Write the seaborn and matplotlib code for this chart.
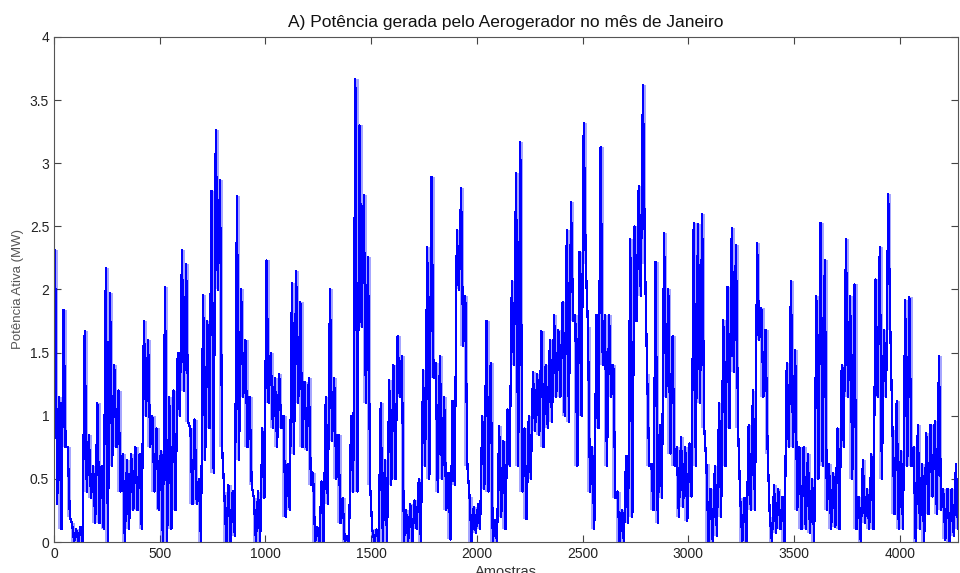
import numpy as np
import pandas as pd
import matplotlib
matplotlib.use("Agg")
import matplotlib.pyplot as plt
import seaborn as sns

# Readings from the reference: for each block of 20 samples, the highest and lowest power (MW)
block_step = 20
peak_mw = [
    2.31, 1.15, 1.84, 0.75, 0.15, 0.10, 0.12, 1.67, 0.85, 0.60,
    1.10, 0.60, 2.17, 1.97, 1.40, 1.20, 0.70, 0.65, 0.70, 0.75,
    0.70, 1.75, 1.60, 1.00, 0.90, 0.72, 2.02, 1.15, 1.20, 1.50,
    2.31, 2.20, 0.90, 0.97, 0.50, 1.96, 1.75, 2.78, 3.26, 2.87,
    0.40, 0.45, 0.40, 2.74, 2.00, 1.60, 1.15, 0.35, 0.40, 0.90,
    2.23, 1.50, 1.30, 1.33, 1.00, 0.62, 2.05, 2.15, 1.90, 1.27,
    1.30, 0.55, 0.12, 0.48, 1.15, 2.00, 1.30, 0.85, 0.35, 0.05,
    1.00, 3.67, 3.30, 2.75, 2.26, 0.10, 0.10, 1.10, 0.65, 1.28,
    1.40, 1.63, 1.47, 0.25, 0.30, 0.33, 0.50, 1.36, 2.34, 2.89,
    1.42, 1.47, 1.15, 0.55, 1.12, 2.47, 2.80, 1.95, 0.36, 0.28,
    0.30, 1.00, 1.75, 1.42, 0.17, 0.92, 0.80, 1.05, 2.07, 2.92,
    3.17, 0.90, 1.00, 1.35, 1.33, 1.67, 1.40, 1.60, 1.80, 1.68,
    1.90, 2.47, 2.69, 1.80, 2.30, 3.32, 1.70, 0.75, 1.80, 3.13,
    1.80, 1.80, 1.40, 0.40, 0.25, 0.68, 2.40, 2.50, 2.82, 3.62,
    1.33, 0.62, 2.22, 0.93, 2.45, 2.00, 1.63, 0.75, 0.83, 0.75,
    0.78, 2.53, 2.52, 2.60, 0.62, 0.42, 0.60, 1.10, 1.76, 2.02,
    2.49, 2.35, 0.35, 0.35, 0.93, 1.20, 2.37, 1.85, 1.68, 0.20,
    0.45, 0.42, 0.36, 1.42, 2.07, 1.52, 0.75, 0.75, 0.70, 0.50,
    1.95, 2.53, 2.23, 0.62, 0.55, 0.90, 1.40, 2.40, 1.95, 2.04,
    0.36, 0.65, 0.42, 0.70, 2.08, 2.34, 1.68, 2.76, 0.89, 1.12,
    0.72, 1.92, 1.94, 0.75, 0.93, 0.62, 0.86, 0.93, 0.96, 1.47,
    0.42, 0.42, 0.42, 0.62,
]
trough_mw = [
    0.30, 0.10, 0.75, 0.20, 0.00, 0.00, 0.00, 0.40, 0.35, 0.15,
    0.15, 0.10, 0.00, 0.60, 0.75, 0.40, 0.00, 0.10, 0.25, 0.25,
    0.10, 1.00, 0.75, 0.40, 0.25, 0.00, 0.00, 0.10, 0.25, 1.00,
    1.20, 0.95, 0.30, 0.30, 0.00, 0.65, 0.90, 0.55, 2.00, 0.75,
    0.00, 0.00, 0.05, 0.65, 1.15, 0.75, 0.45, 0.00, 0.00, 0.35,
    1.10, 0.90, 0.75, 0.90, 0.20, 0.25, 0.70, 1.10, 0.75, 0.73,
    0.45, 0.00, 0.00, 0.00, 0.30, 0.80, 0.50, 0.15, 0.00, 0.00,
    0.40, 0.40, 1.70, 1.10, 0.45, 0.00, 0.00, 0.00, 0.00, 0.45,
    0.50, 1.15, 0.00, 0.00, 0.00, 0.10, 0.00, 0.60, 0.50, 1.30,
    0.40, 0.50, 0.25, 0.02, 0.45, 2.00, 1.55, 0.60, 0.00, 0.07,
    0.10, 0.42, 0.40, 0.00, 0.00, 0.20, 0.10, 0.60, 1.40, 0.60,
    0.40, 0.18, 0.50, 0.88, 0.85, 0.75, 0.90, 0.95, 1.15, 1.15,
    1.00, 0.95, 1.75, 0.60, 1.00, 2.20, 0.40, 0.10, 0.90, 1.40,
    0.60, 1.15, 0.35, 0.00, 0.00, 0.15, 0.20, 1.75, 1.95, 2.20,
    0.60, 0.25, 0.15, 0.35, 1.15, 0.70, 0.60, 0.20, 0.28, 0.17,
    0.36, 0.60, 1.10, 0.90, 0.00, 0.00, 0.05, 0.20, 0.60, 0.90,
    1.35, 0.90, 0.00, 0.00, 0.25, 0.25, 1.60, 1.15, 0.70, 0.00,
    0.07, 0.10, 0.00, 0.75, 0.75, 0.25, 0.10, 0.10, 0.07, 0.00,
    0.50, 0.60, 0.25, 0.10, 0.12, 0.10, 0.75, 1.15, 0.50, 0.10,
    0.00, 0.15, 0.10, 0.10, 1.15, 0.50, 1.15, 1.68, 0.22, 0.10,
    0.10, 0.60, 0.60, 0.00, 0.10, 0.00, 0.22, 0.36, 0.22, 0.25,
    0.02, 0.00, 0.05, 0.10,
]
x_ticks = [0, 500, 1000, 1500, 2000, 2500, 3000, 3500, 4000]
y_ticks = [0, 0.5, 1, 1.5, 2, 2.5, 3, 3.5, 4]
y_tick_labels = ["0", "0.5", "1", "1.5", "2", "2.5", "3", "3.5", "4"]
x_limit = 4275

samples, power = [], []
for i, (hi, lo) in enumerate(zip(peak_mw, trough_mw)):
    start = i * block_step
    samples += [start + 5, start + 15]
    power += [hi, lo]
df = pd.DataFrame({"Amostras": samples, "Potencia": power})
block_center = [i * block_step + block_step / 2 for i in range(len(peak_mw))]

sns.set_style("white")
plt.rcParams["font.family"] = ["Liberation Sans", "DejaVu Sans"]

fig = plt.figure(figsize=(9.6, 5.73), dpi=100)
ax = fig.add_axes([0.05625, 0.0541, 0.94167, 0.88133])

# dense core of each block (range between the low and high readings)
ax.fill_between(block_center, trough_mw, peak_mw, color="#0000ff",
                alpha=0.35, linewidth=0, step="mid")
sns.lineplot(data=df, x="Amostras", y="Potencia", ax=ax, color="#0000ff",
             linewidth=0.9, estimator=None, sort=False, antialiased=False)

ax.set_xlim(0, x_limit)
ax.set_ylim(0, 4)
ax.set_xticks(x_ticks)
ax.set_xticklabels([str(t) for t in x_ticks])
ax.set_yticks(y_ticks)
ax.set_yticklabels(y_tick_labels)
ax.tick_params(direction="in", length=5, width=0.8, colors="#444444",
               labelcolor="#222222", labelsize=10, top=True, right=True,
               bottom=True, left=True)
for sp in ax.spines.values():
    sp.set_visible(True)
    sp.set_color("#555555")
    sp.set_linewidth(0.8)

ax.set_title("A) Potência gerada pelo Aerogerador no mês de Janeiro",
             fontsize=12.5, color="#111111", pad=7)
ax.set_xlabel("Amostras", fontsize=10.5, color="#333333", labelpad=3)
ax.set_ylabel("Potência Ativa (MW)", fontsize=9.5, color="#555555", labelpad=4)

fig.savefig("out.png", dpi=100)
